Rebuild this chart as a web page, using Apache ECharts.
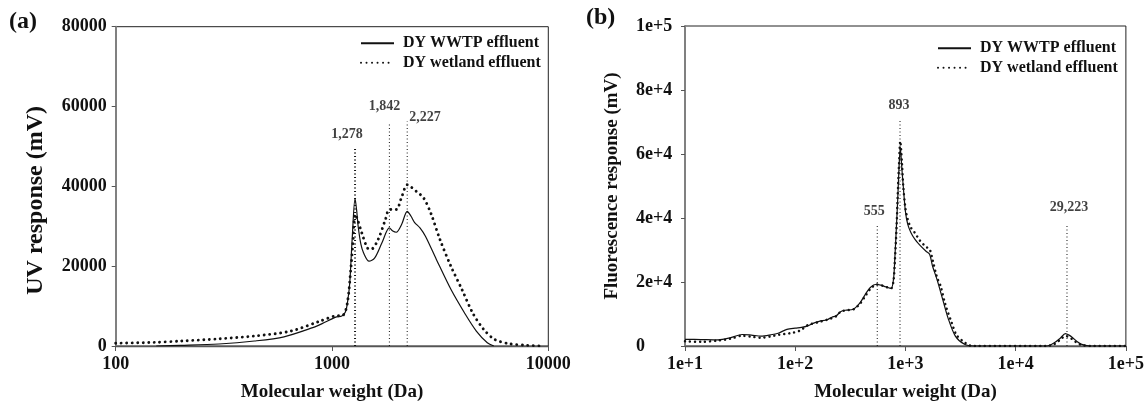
<!DOCTYPE html>
<html><head><meta charset="utf-8">
<script src="https://cdn.jsdelivr.net/npm/echarts@6/dist/echarts.min.js"></script>
<style>html,body{margin:0;padding:0;background:#fff}#c{width:1147px;height:407px}</style>
</head><body><div id="c"></div>
<script>
const seriesNames = ['DY WWTP effluent', 'DY wetland effluent'];

// ---- Panel (a): UV response ----
const aWwtpMW = [154, 200, 300, 438, 600, 815, 900, 1000, 1050, 1110, 1153, 1180, 1208, 1240, 1278, 1300, 1321, 1360, 1400, 1483, 1573, 1700, 1842, 1910, 1982, 2100, 2227, 2320, 2406, 2551, 2704, 3037, 3545, 4140, 4648, 5224, 5600];
const aWwtpUV = [0, 150, 500, 1250, 2300, 4600, 5600, 6800, 7300, 7500, 8500, 11000, 15800, 27000, 37000, 34000, 30000, 25500, 23300, 21250, 22000, 25800, 29600, 28800, 28500, 30500, 33750, 32500, 31000, 29600, 27500, 21700, 14200, 7900, 3750, 830, 0];
const aWetMW = [100, 150, 202, 300, 438, 646, 881, 1028, 1123, 1178, 1225, 1250, 1278, 1306, 1374, 1456, 1514, 1634, 1766, 1842, 1982, 2104, 2227, 2300, 2454, 2651, 2863, 3155, 3545, 3985, 4470, 5020, 5640, 6580, 7990, 9570];
const aWetUV = [700, 900, 1250, 1800, 2500, 3750, 6250, 7500, 7700, 10800, 20000, 26000, 33000, 32000, 28300, 24600, 24200, 26700, 31700, 34200, 34200, 37500, 40400, 40000, 38750, 37100, 33300, 26700, 20000, 14200, 8300, 4200, 1670, 580, 170, 0];
const aRefMW = [1278, 1842, 2227];
const aRefTop = [50000, 55700, 56250];
const aRefLabels = ['1,278', '1,842', '2,227'];
const aXTicks = ['100', '1000', '10000'];
const aYTicks = ['0', '20000', '40000', '60000', '80000'];

// ---- Panel (b): Fluorescence response ----
const bWwtpMW = [10, 14, 20, 26, 33, 40, 49, 60, 70, 84, 100, 114, 130, 143, 165, 194, 215, 235, 260, 290, 332, 387, 430, 480, 546, 600, 661, 741, 780, 800, 830, 851, 875, 898, 930, 955, 1000, 1050, 1120, 1221, 1350, 1537, 1660, 1760, 1933, 2200, 2432, 2837, 3436, 4160, 19200, 22400, 25500, 28250, 30500, 32900, 36000, 39800, 48300, 100000];
const bWwtpFL = [2100, 2000, 1900, 2600, 3600, 3400, 3100, 3500, 4000, 5200, 5600, 5800, 6300, 7000, 7700, 8200, 9000, 9400, 10800, 11200, 11400, 13500, 16000, 18300, 19300, 19000, 18500, 18000, 21000, 27000, 38000, 45700, 56000, 61900, 55000, 50000, 42000, 38000, 35500, 33300, 31500, 29600, 28600, 25000, 20800, 14000, 8800, 3100, 520, 0, 0, 1000, 2500, 3850, 3400, 2600, 1400, 520, 0, 0];
const bWetMW = [10, 14, 20, 26, 33, 40, 49, 60, 70, 90, 110, 130, 165, 194, 235, 260, 300, 340, 387, 430, 480, 546, 600, 661, 741, 780, 800, 830, 851, 875, 898, 930, 955, 1000, 1050, 1120, 1221, 1350, 1537, 1660, 1760, 1933, 2085, 2300, 2626, 2900, 3305, 3800, 4160, 19200, 22400, 25500, 28250, 30500, 32900, 36000, 39800, 48300, 100000];
const bWetFL = [1500, 1300, 1700, 2300, 3200, 2900, 2600, 3000, 3500, 4000, 4800, 6500, 7500, 8200, 9300, 10800, 11200, 11500, 13200, 15500, 17800, 19200, 19000, 18500, 18000, 20500, 26000, 37000, 47000, 57000, 64000, 57000, 50000, 43000, 39500, 37000, 35300, 33000, 31000, 30200, 27000, 21500, 18700, 13000, 7300, 3500, 1560, 200, 0, 0, 600, 2000, 3100, 2800, 2000, 1000, 300, 0, 0];
const bRefMW = [555, 893, 29223];
const bRefTop = [37600, 70900, 37600];
const bRefLabels = ['555', '893', '29,223'];
const bXTicks = ['1e+1', '1e+2', '1e+3', '1e+4', '1e+5'];
const bYTicks = ['0', '2e+4', '4e+4', '6e+4', '8e+4', '1e+5'];

const FONT = "'Liberation Serif', 'Times New Roman', serif";
const pairs = (xs, ys) => xs.map((x, i) => [x, ys[i]]);
const logIdx = (v, base) => Math.round(Math.log10(v) - base);

const chart = echarts.init(document.getElementById('c'), null, {renderer: 'canvas'});

function xAxisCfg(gi, min, max, ticks, base) {
  return {
    type: 'log', logBase: 10, gridIndex: gi, min: min, max: max,
    name: 'Molecular weight (Da)', nameLocation: 'middle', nameGap: 37,
    nameTextStyle: {fontFamily: FONT, fontWeight: 'bold', fontSize: 19, color: '#111'},
    axisLine: {show: true, onZero: false, lineStyle: {color: '#555', width: 1.3}},
    axisTick: {show: true, inside: false, length: 5, lineStyle: {color: '#555'}},
    minorTick: {show: false}, splitLine: {show: false},
    axisLabel: {fontFamily: FONT, fontWeight: 'bold', fontSize: 18, color: '#111', margin: 9,
      formatter: v => ticks[logIdx(v, base)]}
  };
}
function yAxisCfg(gi, max, ticks, name, gap, align, margin, nameSize, namePad) {
  return {
    type: 'value', gridIndex: gi, min: 0, max: max, interval: 20000,
    name: name, nameLocation: 'middle', nameGap: gap,
    nameTextStyle: {fontFamily: FONT, fontWeight: 'bold', fontSize: nameSize, color: '#111', padding: namePad},
    axisLine: {show: true, lineStyle: {color: '#808080', width: 2}},
    axisTick: {show: true, inside: false, length: 4, lineStyle: {color: '#555'}},
    splitLine: {show: false},
    axisLabel: {fontFamily: FONT, fontWeight: 'bold', fontSize: 18, color: '#111', margin: margin, align: align,
      formatter: v => ticks[Math.round(v / 20000)]}
  };
}

function solid(name, xi, data, w) {
  return {name: name, type: 'line', xAxisIndex: xi, yAxisIndex: xi, data: data, symbol: 'none',
    smooth: 0.3, itemStyle: {color: '#111'}, lineStyle: {color: '#111', width: w}, z: 3};
}
function dotted(name, xi, data, w, gap) {
  return {name: name, type: 'line', xAxisIndex: xi, yAxisIndex: xi, data: data, symbol: 'none',
    smooth: 0.3, itemStyle: {color: '#111'}, lineStyle: {color: '#111', width: w, type: [0.01, gap], cap: 'round'}, z: 4};
}
function refLines(xi, mws, tops, widths) {
  return mws.map((m, i) => ({
    type: 'line', xAxisIndex: xi, yAxisIndex: xi, data: [[m, 0], [m, tops[i]]], symbol: 'none',
    silent: true, lineStyle: {color: '#111', width: widths[i], type: [1, 2.5]}, z: 2
  }));
}
function refLabels(xi, mws, tops, labels, labelCfg) {
  return {
    type: 'scatter', xAxisIndex: xi, yAxisIndex: xi, symbolSize: 0, silent: true, z: 5,
    data: mws.map((m, i) => ({value: [m, tops[i]], label: Object.assign({
      show: true, formatter: labels[i], fontFamily: FONT, fontWeight: 'bold', fontSize: 14, color: '#111'
    }, labelCfg[i])}))
  };
}

const legendCommon = {
  orient: 'vertical', itemWidth: 33, itemHeight: 16, itemGap: 3.4, padding: 0,
  itemStyle: {opacity: 0},
  textStyle: {fontFamily: FONT, fontWeight: 'bold', fontSize: 16, color: '#111', padding: [0, 0, 0, 4]},
  data: seriesNames, selectedMode: false
};

const option = {
  animation: false,
  backgroundColor: '#fff',
  grid: [
    {left: 115.7, right: 598.7, top: 26.7, bottom: 61, show: true, borderColor: '#222', borderWidth: 1},
    {left: 685, right: 19.3, top: 26, bottom: 61, show: true, borderColor: '#222', borderWidth: 1}
  ],
  xAxis: [xAxisCfg(0, 100, 10000, aXTicks, 2), xAxisCfg(1, 10, 100000, bXTicks, 1)],
  yAxis: [
    yAxisCfg(0, 80000, aYTicks, 'UV response (mV)', 68, 'right', 9, 24, [0, 28, 0, 0]),
    yAxisCfg(1, 100000, bYTicks, 'Fluorescence response (mV)', 63.5, 'left', 49, 19, 0)
  ],
  legend: [
    Object.assign({}, legendCommon, {left: 360, top: 35.3}),
    Object.assign({}, legendCommon, {left: 937, top: 40.3})
  ],
  graphic: [
    {type: 'text', left: 9, top: 10, style: {text: '(a)', font: "bold 24px 'Liberation Serif'", fill: '#111'}},
    {type: 'text', left: 586, top: 6, style: {text: '(b)', font: "bold 24px 'Liberation Serif'", fill: '#111'}}
  ],
  series: [
    solid(seriesNames[0], 0, pairs(aWwtpMW, aWwtpUV), 1.2),
    dotted(seriesNames[1], 0, pairs(aWetMW, aWetUV), 2.9, 5.5),
    solid(seriesNames[0], 1, pairs(bWwtpMW, bWwtpFL), 1.2),
    dotted(seriesNames[1], 1, pairs(bWetMW, bWetFL), 2.5, 5),
    ...refLines(0, aRefMW, aRefTop, [2, 1, 1]),
    ...refLines(1, bRefMW, bRefTop, [1, 1, 1]),
    refLabels(0, aRefMW, aRefTop, aRefLabels, [
      {position: 'top', distance: 5, offset: [-8, 0]},
      {position: 'top', distance: 10, offset: [-5, 0]},
      {position: 'right', distance: 2, offset: [0, -4]}
    ]),
    refLabels(1, bRefMW, bRefTop, bRefLabels, [
      {position: 'top', distance: 7, offset: [-3, 0]},
      {position: 'top', distance: 7, offset: [-1, 0]},
      {position: 'top', distance: 11, offset: [2, 0]}
    ])
  ]
};
chart.setOption(option);
</script>
</body></html>
